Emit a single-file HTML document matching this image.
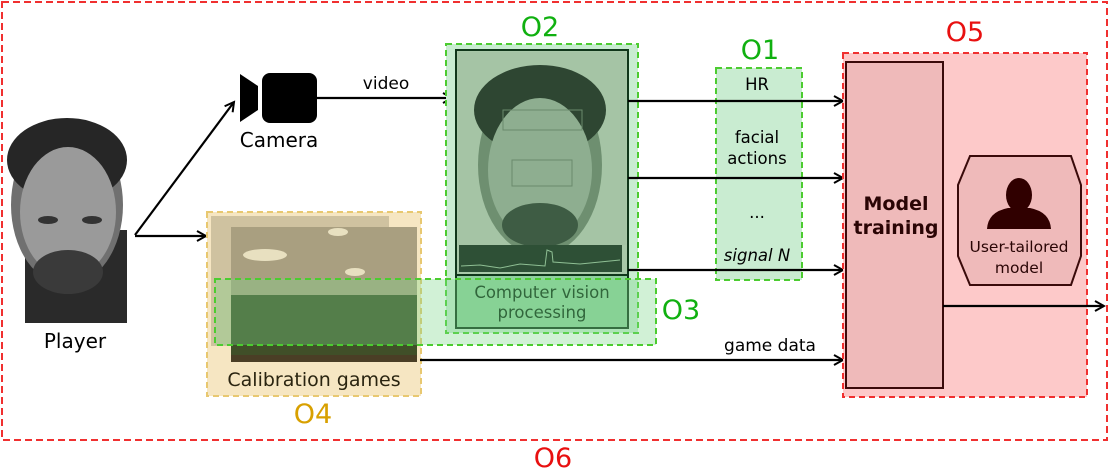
<!DOCTYPE html>
<html><head><meta charset="utf-8"><style>body{margin:0;background:#fff}svg{display:block}text{font-family:"DejaVu Sans","Liberation Sans",sans-serif}</style></head>
<body>
<svg width="1110" height="470" viewBox="0 0 1110 470" xmlns="http://www.w3.org/2000/svg">
<defs><marker id="a" markerWidth="12" markerHeight="12" refX="10" refY="6" orient="auto" markerUnits="userSpaceOnUse"><path d="M1,1 L10,6 L1,11" fill="none" stroke="#000" stroke-width="2"/></marker></defs>
<rect x="2" y="2" width="1105" height="438" fill="none" stroke="#f03030" stroke-width="2" stroke-dasharray="7,4"/>
<text x="553" y="467" font-size="27" fill="#e81010" text-anchor="middle">O6</text>
<!-- player -->
<g>
<rect x="25" y="230" width="102" height="93" fill="#2a2a2a"/>
<ellipse cx="67" cy="205" rx="56" ry="80" fill="#707070"/>
<ellipse cx="67" cy="160" rx="60" ry="42" fill="#262626"/>
<ellipse cx="68" cy="212" rx="48" ry="65" fill="#9a9a9a"/>
<ellipse cx="68" cy="272" rx="35" ry="22" fill="#3a3a3a"/>
<ellipse cx="48" cy="220" rx="10" ry="4" fill="#333"/><ellipse cx="92" cy="220" rx="10" ry="4" fill="#333"/>
</g>
<text x="75" y="348" font-size="20" text-anchor="middle">Player</text>
<!-- camera -->
<path d="M240,74 L258,86 L258,110 L240,122 Z" fill="#000"/>
<rect x="262" y="73" width="55" height="50" rx="8" fill="#000"/>
<text x="279" y="147" font-size="20" text-anchor="middle">Camera</text>
<line x1="135" y1="235" x2="234" y2="102" stroke="#000" stroke-width="2.2" marker-end="url(#a)"/>
<line x1="135" y1="236" x2="206" y2="236" stroke="#000" stroke-width="2.2" marker-end="url(#a)"/>
<line x1="317" y1="98" x2="452" y2="98" stroke="#000" stroke-width="2.2" marker-end="url(#a)"/>
<text x="386" y="89" font-size="17" text-anchor="middle">video</text>
<!-- O4 -->
<rect x="207" y="212" width="214" height="184" fill="#f6e6c2" stroke="#e8c870" stroke-width="2" stroke-dasharray="6,4"/>
<rect x="211" y="216" width="178" height="130" fill="#cfc2a0"/>
<rect x="231" y="227" width="186" height="135" fill="#a99f80"/>
<rect x="231" y="295" width="186" height="60" fill="#404f28"/>
<rect x="231" y="355" width="186" height="7" fill="#4a3e25"/>
<ellipse cx="265" cy="255" rx="22" ry="6" fill="#e8e0c0"/><ellipse cx="338" cy="232" rx="10" ry="4" fill="#e8e0c0"/><ellipse cx="355" cy="272" rx="10" ry="4" fill="#e8e0c0"/>
<text x="314" y="386" font-size="19" text-anchor="middle" fill="#2a2410">Calibration games</text>
<text x="313" y="423" font-size="27" text-anchor="middle" fill="#d8a000">O4</text>
<line x1="420" y1="360" x2="843" y2="360" stroke="#000" stroke-width="2.2" marker-end="url(#a)"/>
<text x="770" y="351" font-size="17" text-anchor="middle">game data</text>
<!-- O2 -->
<rect x="446" y="44" width="192" height="289" fill="#c9ecd1" stroke="#4ccc30" stroke-width="2" stroke-dasharray="6,4"/>
<rect x="456" y="50" width="172" height="278" fill="#a8c8a8" stroke="#10361a" stroke-width="2"/>
<rect x="458" y="52" width="168" height="193" fill="#a5c4a5"/>
<ellipse cx="540" cy="165" rx="62" ry="90" fill="#6e8f70"/>
<ellipse cx="540" cy="110" rx="66" ry="45" fill="#2e4632"/>
<ellipse cx="540" cy="170" rx="52" ry="72" fill="#8eae90"/>
<ellipse cx="540" cy="225" rx="38" ry="22" fill="#3e5c44"/>
<rect x="503" y="110" width="79" height="20" fill="none" stroke="#6a8a6c"/>
<rect x="512" y="160" width="60" height="26" fill="none" stroke="#6a8a6c"/>
<rect x="459" y="245" width="163" height="27" fill="#2e5036"/>
<polyline points="461,266 480,265 500,268 520,264 545,266 547,250 552,252 553,262 580,264 620,260" fill="none" stroke="#8fbf94" stroke-width="1"/>
<rect x="456" y="275" width="172" height="53" fill="#8ecf9c" stroke="#10361a" stroke-width="2"/>
<text x="542" y="298" font-size="16.5" text-anchor="middle" fill="#0a2a12">Computer vision</text>
<text x="542" y="318" font-size="16.5" text-anchor="middle" fill="#0a2a12">processing</text>
<text x="540" y="36" font-size="27" text-anchor="middle" fill="#10b010">O2</text>
<!-- O3 -->
<rect x="215" y="279" width="441" height="66" fill="#7cd68a" fill-opacity="0.35" stroke="#4ccc30" stroke-width="2" stroke-dasharray="6,4"/>
<text x="681" y="319" font-size="27" text-anchor="middle" fill="#10b010">O3</text>
<!-- O1 -->
<rect x="716" y="68" width="86" height="212" fill="#c9ecd1" stroke="#4ccc30" stroke-width="2" stroke-dasharray="6,4"/>
<text x="760" y="59" font-size="27" text-anchor="middle" fill="#10b010">O1</text>
<text x="757" y="90" font-size="16.5" text-anchor="middle">HR</text>
<text x="757" y="143" font-size="16.5" text-anchor="middle">facial</text>
<text x="757" y="164" font-size="16.5" text-anchor="middle">actions</text>
<text x="757" y="218" font-size="16.5" text-anchor="middle">...</text>
<text x="757" y="261" font-size="16.5" text-anchor="middle" font-style="italic">signal N</text>
<line x1="628" y1="101" x2="843" y2="101" stroke="#000" stroke-width="2.2" marker-end="url(#a)"/>
<line x1="628" y1="178" x2="843" y2="178" stroke="#000" stroke-width="2.2" marker-end="url(#a)"/>
<line x1="628" y1="270" x2="843" y2="270" stroke="#000" stroke-width="2.2" marker-end="url(#a)"/>
<!-- O5 -->
<rect x="843" y="53" width="244" height="344" fill="#fdc9c9" stroke="#f03030" stroke-width="2" stroke-dasharray="6,4"/>
<text x="965" y="41" font-size="27" text-anchor="middle" fill="#e81010">O5</text>
<rect x="846" y="62" width="97" height="326" fill="#efbaba" stroke="#3a0a0a" stroke-width="2"/>
<text x="896" y="210" font-size="19" font-weight="bold" text-anchor="middle" fill="#2a0505">Model</text>
<text x="896" y="234" font-size="19" font-weight="bold" text-anchor="middle" fill="#2a0505">training</text>
<path d="M970,156 L1071,156 L1081,185 L1081,256 L1071,285 L970,285 L958,256 L958,185 Z" fill="#efbaba" stroke="#3a0a0a" stroke-width="2"/>
<ellipse cx="1019" cy="195" rx="13" ry="17" fill="#300000"/>
<path d="M987,229 Q988,212 1008,208 L1030,208 Q1050,212 1051,229 Z" fill="#300000"/>
<text x="1019" y="252" font-size="15.5" text-anchor="middle" fill="#2a0505">User-tailored</text>
<text x="1019" y="273" font-size="15.5" text-anchor="middle" fill="#2a0505">model</text>
<line x1="943" y1="306" x2="1104" y2="306" stroke="#000" stroke-width="2.2" marker-end="url(#a)"/>
</svg>
</body></html>
